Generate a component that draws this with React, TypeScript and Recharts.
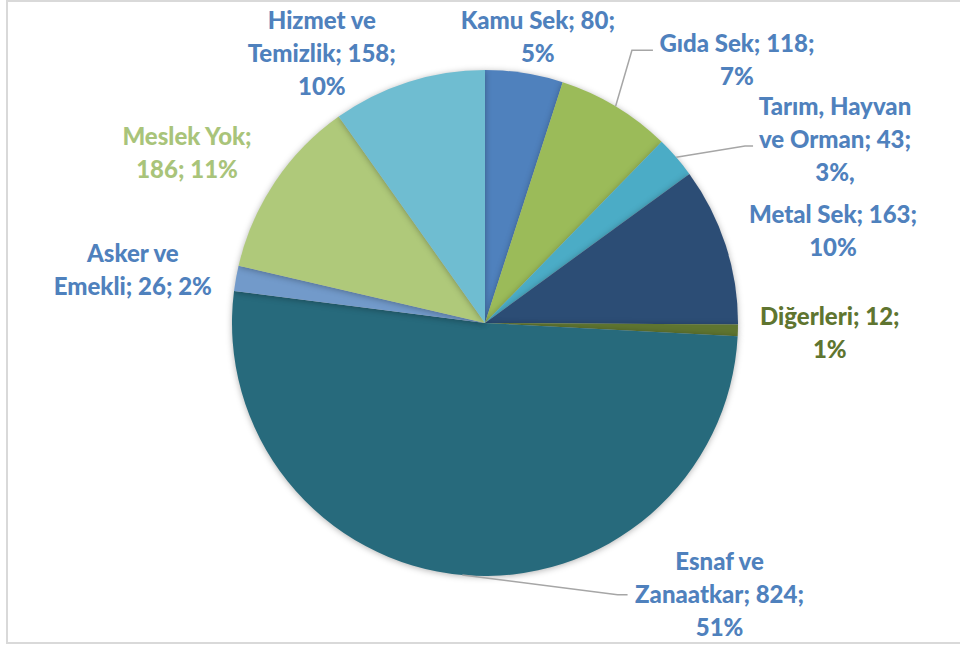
import React from 'react';
import { PieChart, Pie, Cell } from 'recharts';

// occupations, counts and shown percentages (as printed in the original labels)
const categories = [
  'Kamu Sek',
  'Gıda Sek',
  'Tarım, Hayvan ve Orman',
  'Metal Sek',
  'Diğerleri',
  'Esnaf ve Zanaatkar',
  'Asker ve Emekli',
  'Meslek Yok',
  'Hizmet ve Temizlik',
];
const counts = [80, 118, 43, 163, 12, 824, 26, 186, 158];
const percentLabels = ['5%', '7%', '3%,', '10%', '1%', '51%', '2%', '11%', '10%'];

const sliceColors = ['#4F81BD', '#9BBB59', '#4BACC6', '#2C4D75', '#5F7530', '#276A7C', '#729ACA', '#AFC97A', '#6FBDD1'];
const textColors = ['#4F81BD', '#4F81BD', '#4F81BD', '#4F81BD', '#5F7530', '#4F81BD', '#4F81BD', '#A9C47A', '#4F81BD'];

// label placement: angle clockwise from 12 o'clock, distance from centre
const labelPlace = [
  { a: 10.5, d: 290 },
  { a: 43.8, d: 364 },
  { a: 62.4, d: 395 },
  { a: 75.2, d: 360 },
  { a: 91.8, d: 345 },
  { a: 139.2, d: 359 },
  { a: 278.4, d: 356 },
  { a: 299.7, d: 343 },
  { a: 328.8, d: 315 },
];
// leader lines: elbow and end relative to label centre
const leaders: Record<number, { ex: number; ey: number; tx: number }> = {
  1: { ex: -105, ey: -10, tx: -84 },
  2: { ex: -90, ey: 6, tx: -82 },
  5: { ex: -102, ey: 0, tx: -92 },
};

const data = categories.map((name, i) => ({ name, value: counts[i], pct: percentLabels[i] }));

const RAD = Math.PI / 180;
const LINE_H = 33;

function wrap(text: string, max: number) {
  const words = text.split(' ');
  const lines: string[] = [];
  let cur = '';
  words.forEach((w) => {
    const next = cur ? cur + ' ' + w : w;
    if (next.length > max && cur) {
      lines.push(cur);
      cur = w;
    } else {
      cur = next;
    }
  });
  if (cur) lines.push(cur);
  return lines;
}

const renderLabel = (props: any) => {
  const { cx, cy, midAngle, outerRadius, index } = props;
  const d = data[index];
  const place = labelPlace[index];
  const lx = cx + place.d * Math.sin(place.a * RAD);
  const ly = cy - place.d * Math.cos(place.a * RAD);
  const lines = wrap(`${d.name}; ${d.value}; ${d.pct}`, 15);
  const top = ly - ((lines.length - 1) * LINE_H) / 2;
  const lead = leaders[index];
  let path = null;
  if (lead) {
    const sx = cx + outerRadius * Math.cos(-midAngle * RAD);
    const sy = cy + outerRadius * Math.sin(-midAngle * RAD);
    path = (
      <polyline
        points={`${sx},${sy} ${lx + lead.ex},${ly + lead.ey} ${lx + lead.tx},${ly + lead.ey}`}
        fill="none"
        stroke="#A6A6A6"
        strokeWidth={1.5}
      />
    );
  }
  return (
    <g key={`lbl-${index}`}>
      {path}
      <text
        x={lx}
        textAnchor="middle"
        fill={textColors[index]}
        fontFamily="Lato, 'Open Sans', sans-serif"
        fontWeight={900}
        fontSize={24}
      >
        {lines.map((ln, i) => (
          <tspan key={i} x={lx} y={top + i * LINE_H + 8}>
            {ln}
          </tspan>
        ))}
      </text>
    </g>
  );
};

export default function App() {
  return (
    <div style={{ position: 'absolute', left: 0, top: 0, width: 960, height: 651, overflow: 'hidden', background: '#fff' }}>
      <div
        style={{
          position: 'absolute',
          left: 6,
          top: 0,
          width: 970,
          height: 644,
          border: '2px solid #D9D9D9',
          boxSizing: 'border-box',
        }}
      />
      <div style={{ position: 'absolute', left: 0, top: 0 }}>
        <PieChart width={960} height={651} margin={{ top: 0, right: 0, bottom: 0, left: 0 }}>
          <Pie
            data={data}
            dataKey="value"
            nameKey="name"
            cx={485}
            cy={323}
            outerRadius={253}
            startAngle={90}
            endAngle={-270}
            stroke="none"
            label={renderLabel}
            labelLine={false}
            isAnimationActive={false}
            style={{ filter: 'drop-shadow(0px 1px 3px rgba(0,0,0,0.3))' }}
          >
            {data.map((d, i) => (
              <Cell key={d.name} fill={sliceColors[i]} />
            ))}
          </Pie>
        </PieChart>
      </div>
    </div>
  );
}
